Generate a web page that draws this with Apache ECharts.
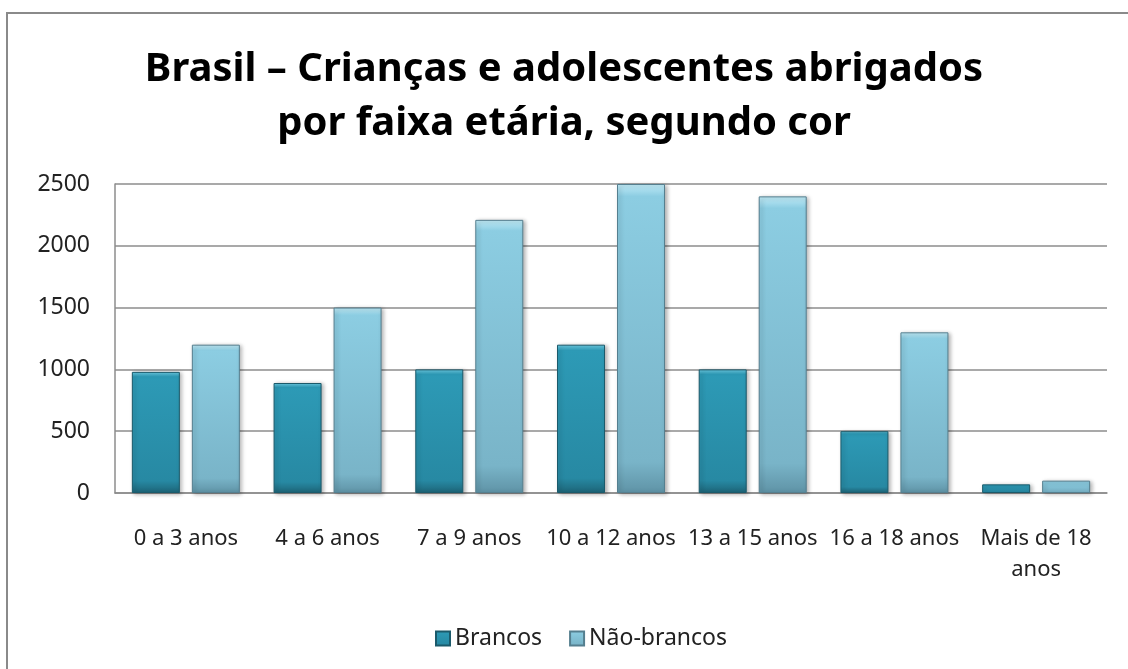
<!DOCTYPE html>
<html>
<head>
<meta charset="utf-8">
<script src="https://cdn.jsdelivr.net/npm/echarts@6/dist/echarts.min.js"></script>
<style>
  html, body { margin: 0; padding: 0; background: #fff; }
  #main { width: 1128px; height: 669px; }
</style>
</head>
<body>
<div id="main"></div>
<script>
// faixas etárias e valores
var categorias = ['0 a 3 anos', '4 a 6 anos', '7 a 9 anos', '10 a 12 anos', '13 a 15 anos', '16 a 18 anos', 'Mais de 18\nanos'];
var brancos = [980, 890, 1000, 1200, 1000, 500, 70];
var naoBrancos = [1200, 1500, 2210, 2500, 2400, 1300, 100];
var nomesSeries = ['Brancos', 'Não-brancos'];

var fonte = '"Noto Sans", "Open Sans", sans-serif';

function grad(c0, c1, c2, c3) {
  return new echarts.graphic.LinearGradient(0, 0, 0, 1, [
    { offset: 0, color: c0 },
    { offset: 0.04, color: c1 },
    { offset: 0.9, color: c2 },
    { offset: 1, color: c3 }
  ]);
}

var chart = echarts.init(document.getElementById('main'));

var option = {
  animation: false,
  textStyle: { fontFamily: fonte },
  graphic: [{
    type: 'rect',
    shape: { x: 7, y: 13, width: 1300, height: 800 },
    style: { fill: 'none', stroke: '#8a8a8a', lineWidth: 2 },
    z: -1
  }],
  title: {
    text: 'Brasil – Crianças e adolescentes abrigados\npor faixa etária, segundo cor',
    left: 'center',
    top: 38,
    textStyle: {
      fontFamily: fonte,
      fontSize: 40,
      fontWeight: 'bold',
      color: '#000',
      lineHeight: 54
    }
  },
  legend: {
    data: nomesSeries,
    left: 430,
    top: 622,
    icon: 'rect',
    itemWidth: 14,
    itemHeight: 14,
    itemGap: 27,
    textStyle: { fontFamily: fonte, fontSize: 23, color: '#222' }
  },
  grid: {
    left: 115,
    right: 21,
    top: 184,
    bottom: 176,
    containLabel: false,
    outerBoundsMode: 'none'
  },
  xAxis: {
    type: 'category',
    data: categorias,
    axisLine: { lineStyle: { color: '#8c8c8c', width: 1.5 } },
    axisTick: { show: false },
    axisLabel: {
      fontFamily: fonte,
      fontSize: 22,
      color: '#222',
      margin: 30,
      lineHeight: 31,
      interval: 0,
      width: 200,
      overflow: 'none'
    }
  },
  yAxis: {
    type: 'value',
    min: 0,
    max: 2500,
    interval: 500,
    axisLine: { show: true, lineStyle: { color: '#8c8c8c', width: 1.5 } },
    axisTick: { show: false },
    splitLine: { lineStyle: { color: '#8c8c8c', width: 1.5 } },
    axisLabel: {
      fontFamily: fonte,
      fontSize: 23,
      color: '#222',
      margin: 25,
      formatter: function (v) { return String(v); }
    }
  },
  series: [
    {
      name: nomesSeries[0],
      type: 'bar',
      data: brancos,
      barWidth: 48,
      barGap: '25%',
      itemStyle: {
        color: grad('#6fd0e8', '#2d9ab6', '#2789a3', '#1d6477'),
        borderColor: '#1b5a6b',
        borderWidth: 1,
        shadowColor: 'rgba(0,0,0,0.3)',
        shadowBlur: 4,
        shadowOffsetX: 2,
        shadowOffsetY: 1
      }
    },
    {
      name: nomesSeries[1],
      type: 'bar',
      data: naoBrancos,
      barWidth: 48,
      itemStyle: {
        color: grad('#c2ecf8', '#8ccde2', '#79b4c8', '#5f93a6'),
        borderColor: '#557f8f',
        borderWidth: 1,
        shadowColor: 'rgba(0,0,0,0.3)',
        shadowBlur: 4,
        shadowOffsetX: 2,
        shadowOffsetY: 1
      }
    }
  ]
};

chart.setOption(option);
</script>
</body>
</html>
